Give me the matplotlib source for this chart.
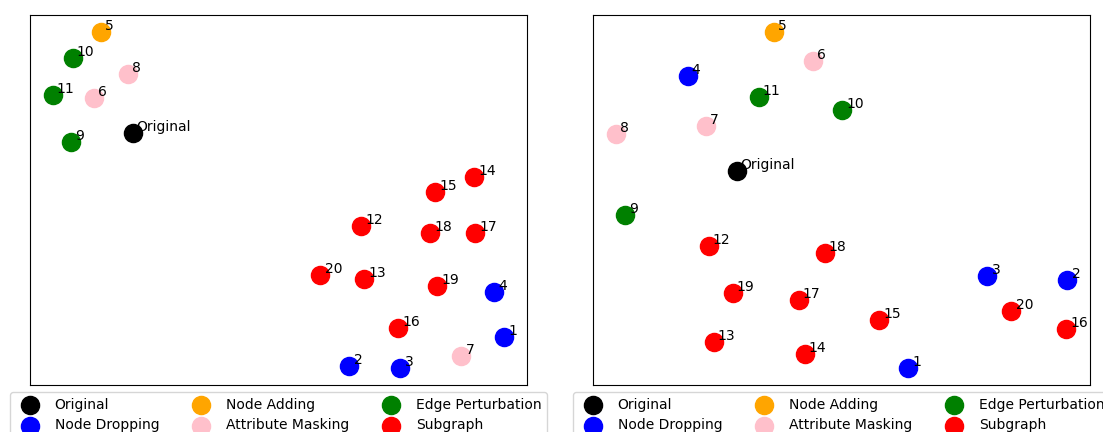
import matplotlib
matplotlib.use("Agg")
import matplotlib.pyplot as plt

groups = ["Original", "Node Dropping", "Node Adding",
          "Attribute Masking", "Edge Perturbation", "Subgraph"]
colors = ["black", "blue", "orange", "pink", "green", "red"]
# which labels belong to which augmentation
members = [
    ["Original"],
    ["1", "2", "3", "4"],
    ["5"],
    ["6", "7", "8"],
    ["9", "10", "11"],
    ["12", "13", "14", "15", "16", "17", "18", "19", "20"],
]

# 2-D embedding of each view (left run)
left_x = {"Original": -14.8, "1": 22.4, "2": 6.9, "3": 12.0, "4": 21.4,
          "5": -18.0, "6": -18.7, "7": 18.1, "8": -15.3, "9": -21.0,
          "10": -20.8, "11": -22.8, "12": 8.1, "13": 8.4, "14": 19.4,
          "15": 15.5, "16": 11.8, "17": 19.5, "18": 15.0, "19": 15.7,
          "20": 4.0}
left_y = {"Original": 6.7, "1": -13.7, "2": -16.6, "3": -16.8, "4": -9.2,
          "5": 16.8, "6": 10.2, "7": -15.6, "8": 12.6, "9": 5.8,
          "10": 14.2, "11": 10.5, "12": -2.6, "13": -7.9, "14": 2.3,
          "15": 0.8, "16": -12.8, "17": -3.3, "18": -3.3, "19": -8.6,
          "20": -7.5}

# 2-D embedding of each view (right run)
right_x = {"Original": -10.4, "1": 6.8, "2": 22.7, "3": 14.7, "4": -15.3,
           "5": -6.7, "6": -2.8, "7": -13.5, "8": -22.5, "9": -21.6,
           "10": 0.2, "11": -8.2, "12": -13.2, "13": -12.7, "14": -3.6,
           "15": 3.9, "16": 22.6, "17": -4.2, "18": -1.6, "19": -10.8,
           "20": 17.1}
right_y = {"Original": 2.9, "1": -16.8, "2": -8.0, "3": -7.6, "4": 12.4,
           "5": 16.8, "6": 13.9, "7": 7.4, "8": 6.6, "9": -1.5,
           "10": 9.0, "11": 10.3, "12": -4.6, "13": -14.2, "14": -15.4,
           "15": -12.0, "16": -12.9, "17": -10.0, "18": -5.3, "19": -9.3,
           "20": -11.1}

fig = plt.figure(figsize=(11.03, 4.32), dpi=100)
W, H = 1103, 432
ax1 = fig.add_axes([30 / W, 47 / H, 497 / W, 370 / H])
ax2 = fig.add_axes([593 / W, 47 / H, 497 / W, 370 / H])


def draw(ax, xs, ys):
    for name, col, labs in zip(groups, colors, members):
        ax.scatter([xs[l] for l in labs], [ys[l] for l in labs],
                   c=col, s=170, label=name, zorder=2)
        for l in labs:
            ax.annotate(l, (xs[l], ys[l]), xytext=(3, 1.5),
                        textcoords="offset points", fontsize=10)
    ax.set_xticks([])
    ax.set_yticks([])
    ax.legend(loc="upper center", bbox_to_anchor=(0.5, 0), ncol=3,
              fontsize=10)


draw(ax1, left_x, left_y)
draw(ax2, right_x, right_y)

fig.savefig("out.png", dpi=100)
